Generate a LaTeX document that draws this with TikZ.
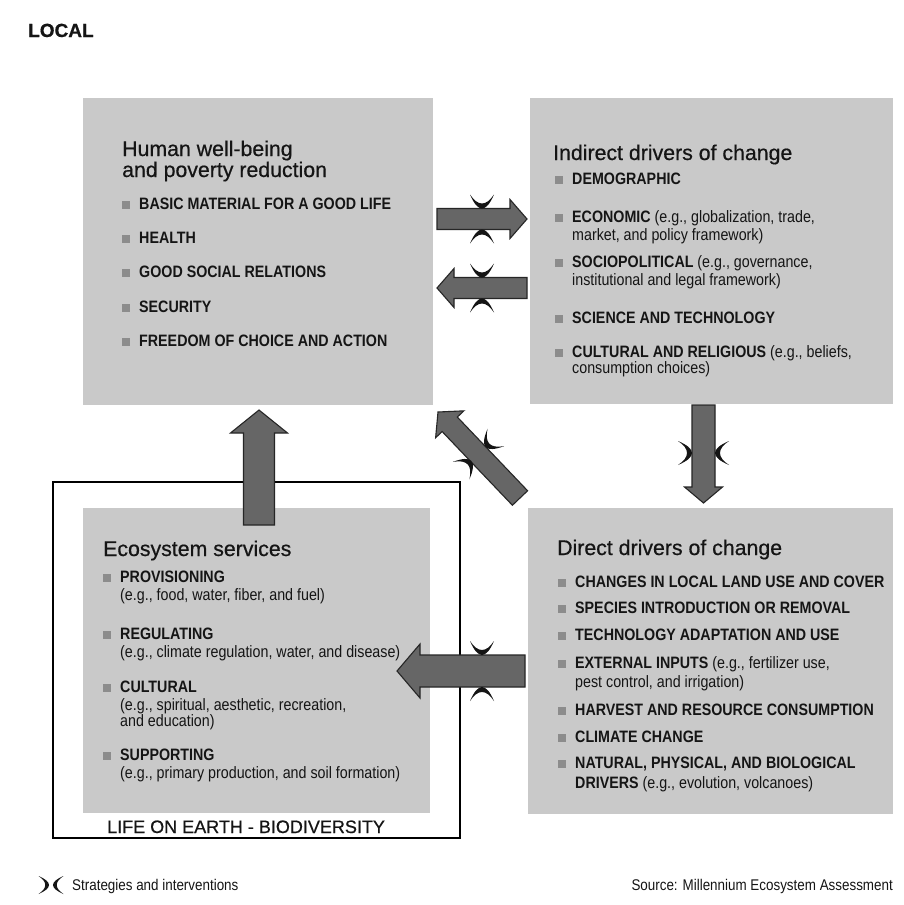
\documentclass[tikz,border=0pt]{standalone}
\usepackage{fontspec}
\setmainfont{Liberation Sans}
\newfontfamily\hdfont{Liberation Sans}[FakeBold=0.6]
\newfontfamily\narfont{Liberation Sans}[FakeStretch=0.865]
\usetikzlibrary{calc}

\definecolor{boxgray}{HTML}{C9C9C9}
\definecolor{arrowgray}{HTML}{666666}
\definecolor{arrowline}{HTML}{262626}
\definecolor{bulletgray}{HTML}{8C8C8C}
\definecolor{ink}{HTML}{151515}

% small square bullet in front of each list entry
\newcommand\bx{{\color{bulletgray}\rule{7.5pt}{8.5pt}}\hspace{9.5pt}}

% broad block arrow: tail, tip, shaft half-width, head half-width, head length
\newcommand\fatarrow[5]{%
  \coordinate (hb) at ($(#2)!#5!(#1)$);
  \filldraw[fat] ($(#1)!#3!90:(#2)$) -- ($(hb)!#3!90:(#2)$) -- ($(hb)!#4!90:(#2)$)
    -- (#2) -- ($(hb)!#4!-90:(#2)$) -- ($(hb)!#3!-90:(#2)$) -- ($(#1)!#3!-90:(#2)$) -- cycle;
}

\tikzset{
  panel/.style={fill=boxgray, draw=none, inner sep=0pt},
  heading/.style={anchor=base west, inner sep=0pt, text=ink, font=\hdfont\fontsize{21.3}{24}\selectfont},
  entry/.style={anchor=base west, inner sep=0pt, text=ink, font=\narfont\bfseries\fontsize{16.5}{19}\selectfont},
  note/.style={anchor=base west, inner sep=0pt, text=ink, font=\narfont\fontsize{16.5}{19}\selectfont},
  keytext/.style={inner sep=0pt, text=ink, font=\narfont\fontsize{15.5}{18}\selectfont},
  fat/.style={fill=arrowgray, draw=arrowline, line width=1.1pt, line join=miter},
  strat/.pic={\fill[ink] (-14,-12) .. controls (4.67,-4) and (4.67,4) .. (-14,12)
                        .. controls (-2,4) and (-2,-4) .. (-14,-12) -- cycle;},
}

\begin{document}
\begin{tikzpicture}[x=1pt, y=-1pt]
\useasboundingbox (0,0) rectangle (903,905);
\fill[white] (0,0) rectangle (903,905);

\node[anchor=base west, inner sep=0pt, text=ink, font=\hdfont\bfseries\fontsize{19}{22}\selectfont] (local) at (28,37) {LOCAL};

% frame around the ecosystem panel
\node[draw=black, line width=1.8pt, minimum width=407pt, minimum height=356pt, inner sep=0pt] (frame) at (256.5,660) {};

% the four panels
\node[panel, minimum width=350pt, minimum height=307pt] (hwb) at (258,251.5) {};
\node[panel, minimum width=363pt, minimum height=306pt] (ind) at (711.5,251) {};
\node[panel, minimum width=365pt, minimum height=306pt] (dir) at (710.5,661) {};
\node[panel, minimum width=347pt, minimum height=305pt] (eco) at (256.5,660.5) {};

% Human well-being
\node[heading] (hwbT1) at (122,156) {Human well-being};
\node[heading] (hwbT2) at (122,177) {and poverty reduction};
\node[entry] (hwb1) at (122,209) {\bx BASIC MATERIAL FOR A GOOD LIFE};
\node[entry] (hwb2) at (122,243) {\bx HEALTH};
\node[entry] (hwb3) at (122,277) {\bx GOOD SOCIAL RELATIONS};
\node[entry] (hwb4) at (122,312) {\bx SECURITY};
\node[entry] (hwb5) at (122,346) {\bx FREEDOM OF CHOICE AND ACTION};

% Indirect drivers
\node[heading] (indT) at (553,160) {Indirect drivers of change};
\node[entry] (ind1) at (555,184) {\bx DEMOGRAPHIC};
\node[entry] (ind2) at (555,222) {\bx ECONOMIC \mdseries(e.g., globalization, trade,};
\node[note]  (ind2b) at (572,240) {market, and policy framework)};
\node[entry] (ind3) at (555,267) {\bx SOCIOPOLITICAL \mdseries(e.g., governance,};
\node[note]  (ind3b) at (572,285) {institutional and legal framework)};
\node[entry] (ind4) at (555,323) {\bx SCIENCE AND TECHNOLOGY};
\node[entry] (ind5) at (555,357) {\bx CULTURAL AND RELIGIOUS \mdseries(e.g., beliefs,};
\node[note]  (ind5b) at (572,373) {consumption choices)};

% Direct drivers
\node[heading] (dirT) at (557,555) {Direct drivers of change};
\node[entry] (dir1) at (558,587) {\bx CHANGES IN LOCAL LAND USE AND COVER};
\node[entry] (dir2) at (558,613) {\bx SPECIES INTRODUCTION OR REMOVAL};
\node[entry] (dir3) at (558,640) {\bx TECHNOLOGY ADAPTATION AND USE};
\node[entry] (dir4) at (558,668) {\bx EXTERNAL INPUTS \mdseries(e.g., fertilizer use,};
\node[note]  (dir4b) at (575,687) {pest control, and irrigation)};
\node[entry] (dir5) at (558,715) {\bx HARVEST AND RESOURCE CONSUMPTION};
\node[entry] (dir6) at (558,742) {\bx CLIMATE CHANGE};
\node[entry] (dir7) at (558,768) {\bx NATURAL, PHYSICAL, AND BIOLOGICAL};
\node[entry] (dir7b) at (575,788) {DRIVERS \mdseries(e.g., evolution, volcanoes)};

% Ecosystem services
\node[heading] (ecoT) at (103,556) {Ecosystem services};
\node[entry] (eco1) at (103,582) {\bx PROVISIONING};
\node[note]  (eco1b) at (120,600) {(e.g., food, water, fiber, and fuel)};
\node[entry] (eco2) at (103,639) {\bx REGULATING};
\node[note]  (eco2b) at (120,657) {(e.g., climate regulation, water, and disease)};
\node[entry] (eco3) at (103,692) {\bx CULTURAL};
\node[note]  (eco3b) at (120,710) {(e.g., spiritual, aesthetic, recreation,};
\node[note]  (eco3c) at (120,726) {and education)};
\node[entry] (eco4) at (103,760) {\bx SUPPORTING};
\node[note]  (eco4b) at (120,778) {(e.g., primary production, and soil formation)};

\node[anchor=base west, inner sep=0pt, text=ink, font=\hdfont\fontsize{18}{21}\selectfont] (life) at (107,833) {LIFE ON EARTH - BIODIVERSITY};

% arrow end points
\coordinate (upS) at (259,525);   \coordinate (upE) at (259,410);
\coordinate (rtS) at (437,219);   \coordinate (rtE) at (527,219);
\coordinate (ltS) at (527,288);   \coordinate (ltE) at (437,288);
\coordinate (dnS) at (703.5,405); \coordinate (dnE) at (703.5,503);
\coordinate (dgS) at (520,498);   \coordinate (dgE) at (438,412);
\coordinate (bmS) at (525,671);   \coordinate (bmE) at (397,671);

\fatarrow{upS}{upE}{15.5pt}{28.5pt}{23pt}
\fatarrow{bmS}{bmE}{16pt}{27pt}{23pt}
\fatarrow{rtS}{rtE}{10.5pt}{19.5pt}{17pt}
\fatarrow{ltS}{ltE}{10.5pt}{19.5pt}{17pt}
\fatarrow{dnS}{dnE}{11.5pt}{19pt}{16pt}
\fatarrow{dgS}{dgE}{10.5pt}{19.5pt}{17pt}

% strategies and interventions
\pic[rotate=-90] at (482,208.5) {strat};
\pic[rotate=90]  at (482,229.5) {strat};
\pic[rotate=-90] at (482,277.5) {strat};
\pic[rotate=90]  at (482,298.5) {strat};
\pic[rotate=-90] at (482,655) {strat};
\pic[rotate=90]  at (482,687) {strat};
\pic[rotate=0]   at (692,453) {strat};
\pic[rotate=180] at (715,453) {strat};
\pic[rotate=223.6] at (485.7,447.1) {strat};
\pic[rotate=43.6]  at (471.3,460.9) {strat};

% key
\pic[rotate=0, scale=0.75]   at (49,885) {strat};
\pic[rotate=180, scale=0.75] at (53,885) {strat};
\node[keytext, anchor=base west] (key) at (72,890) {Strategies and interventions};
\node[keytext, anchor=base east] (src) at (893,890) {Source: Millennium Ecosystem Assessment};
\end{tikzpicture}
\end{document}
